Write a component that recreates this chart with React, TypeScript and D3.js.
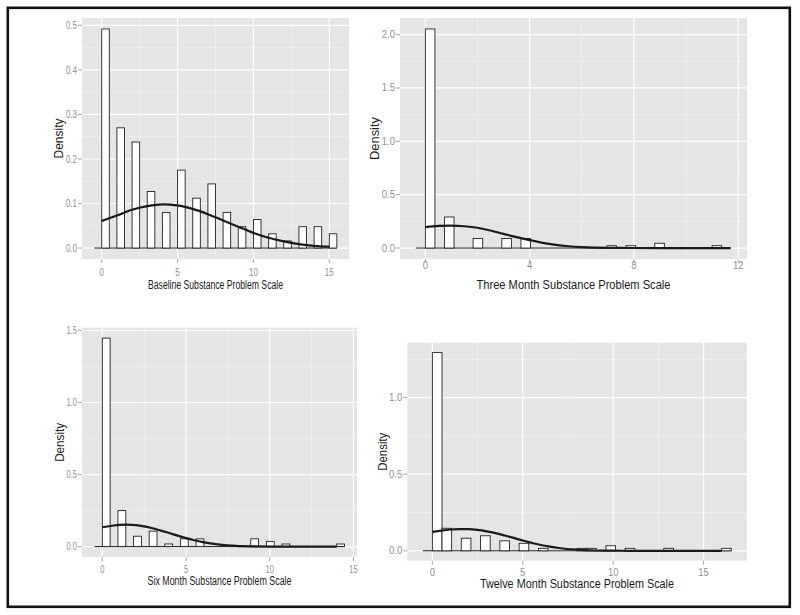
import React from 'react';
import * as d3 from 'd3';

// ---- data ----

// Baseline (binwidth 0.5)
const baseBinStart = [0, 1, 2, 3, 4, 5, 6, 7, 8, 9, 10, 11, 12, 13, 14, 15];
const baseBinWidth = 0.5;
const baseDensity = [0.492, 0.27, 0.238, 0.127, 0.08, 0.175, 0.112, 0.144, 0.08, 0.048, 0.064, 0.032, 0.016, 0.048, 0.048, 0.032];
const baseRange = [-0.5, 15.5];
const baseCurveX = [0, 1, 2, 3, 4, 5, 6, 7, 8, 9, 10, 11, 12, 13, 14, 15];
const baseCurveY = [0.061, 0.073, 0.086, 0.094, 0.098, 0.096, 0.088, 0.076, 0.062, 0.048, 0.034, 0.023, 0.015, 0.009, 0.005, 0.003];
const baseXTicks = [0, 5, 10, 15];
const baseYTicks = [0, 0.1, 0.2, 0.3, 0.4, 0.5];

// Three month (binwidth 11/30)
const threeBinStart = [0, 0.733, 1.833, 2.933, 3.667, 6.967, 7.7, 8.8, 11];
const threeBinWidth = 0.367;
const threeDensity = [2.053, 0.291, 0.089, 0.089, 0.089, 0.022, 0.022, 0.045, 0.022];
const threeRange = [-0.367, 11.733];
const threeCurveX = [0, 0.5, 1, 1.5, 2, 2.5, 3, 3.5, 4, 4.5, 5, 5.5, 6, 7, 8, 9, 10, 11, 11.7];
const threeCurveY = [0.196, 0.207, 0.21, 0.204, 0.19, 0.164, 0.133, 0.102, 0.074, 0.049, 0.03, 0.017, 0.009, 0.002, 0.0004, 0, 0, 0, 0];
const threeXTicks = [0, 4, 8, 12];
const threeYTicks = [0, 0.5, 1, 1.5, 2];

// Six month (binwidth 14/30)
const sixBinStart = [0, 0.933, 1.867, 2.8, 3.733, 4.667, 5.6, 8.867, 9.8, 10.733, 14];
const sixBinWidth = 0.467;
const sixDensity = [1.447, 0.25, 0.072, 0.107, 0.018, 0.054, 0.054, 0.054, 0.036, 0.018, 0.018];
const sixRange = [-0.467, 14.467];
const sixCurveX = [0, 0.5, 1, 1.5, 2, 2.5, 3, 3.5, 4, 4.5, 5, 5.5, 6, 7, 8, 9, 10, 11, 12, 13, 14];
const sixCurveY = [0.134, 0.143, 0.15, 0.152, 0.149, 0.14, 0.127, 0.111, 0.094, 0.076, 0.059, 0.044, 0.031, 0.014, 0.005, 0.0015, 0.0003, 0.0001, 0, 0, 0];
const sixXTicks = [0, 5, 10, 15];
const sixYTicks = [0, 0.5, 1, 1.5];

// Twelve month (binwidth 16/30)
const twelveBinStart = [0, 0.533, 1.6, 2.667, 3.733, 4.8, 5.867, 8, 8.533, 9.6, 10.667, 12.8, 16];
const twelveBinWidth = 0.533;
const twelveDensity = [1.294, 0.147, 0.082, 0.098, 0.065, 0.049, 0.016, 0.016, 0.016, 0.033, 0.016, 0.016, 0.016];
const twelveRange = [-0.533, 16.533];
const twelveCurveX = [0, 0.5, 1, 1.5, 2, 2.5, 3, 3.5, 4, 4.5, 5, 5.5, 6, 6.5, 7, 8, 9, 10, 11, 12, 14, 16];
const twelveCurveY = [0.123, 0.132, 0.139, 0.142, 0.141, 0.136, 0.127, 0.115, 0.1, 0.084, 0.067, 0.052, 0.038, 0.027, 0.018, 0.007, 0.002, 0.0005, 0.0001, 0, 0, 0];
const twelveXTicks = [0, 5, 10, 15];
const twelveYTicks = [0, 0.5, 1];

const titles = [
  'Baseline Substance Problem Scale',
  'Three Month Substance Problem Scale',
  'Six Month Substance Problem Scale',
  'Twelve Month Substance Problem Scale',
];

// ---- layout ----
const FONT = "'Liberation Sans', Arial, Helvetica, sans-serif";
const TICK_COL = '#8f8f8f';

interface Layout {
  x0: number; x1: number; y0: number; y1: number;
  sx: number; tickSize: number; xTickY: number;
  titleLen: number; titleY: number;
  yTitleX: number; yTitleLen: number;
}

const layouts: Layout[] = [
  { x0: 82, x1: 349, y0: 18, y1: 259, sx: 0.76, tickSize: 10.5, xTickY: 276, titleLen: 135, titleY: 289, yTitleX: 59, yTitleLen: 40 },
  { x0: 400, x1: 747, y0: 18, y1: 259, sx: 0.95, tickSize: 10, xTickY: 269, titleLen: 194, titleY: 289, yTitleX: 375, yTitleLen: 43 },
  { x0: 82, x1: 357, y0: 327.7, y1: 557, sx: 0.72, tickSize: 10.5, xTickY: 573, titleLen: 144, titleY: 585, yTitleX: 60, yTitleLen: 39 },
  { x0: 407.3, x1: 746.7, y0: 342.7, y1: 560.7, sx: 0.95, tickSize: 10, xTickY: 576, titleLen: 194, titleY: 588, yTitleX: 383, yTitleLen: 38 },
];

interface PanelData {
  binStart: number[]; binWidth: number; density: number[]; range: number[];
  curveX: number[]; curveY: number[]; xTicks: number[]; yTicks: number[]; title: string;
}

const panels: PanelData[] = [
  { binStart: baseBinStart, binWidth: baseBinWidth, density: baseDensity, range: baseRange, curveX: baseCurveX, curveY: baseCurveY, xTicks: baseXTicks, yTicks: baseYTicks, title: titles[0] },
  { binStart: threeBinStart, binWidth: threeBinWidth, density: threeDensity, range: threeRange, curveX: threeCurveX, curveY: threeCurveY, xTicks: threeXTicks, yTicks: threeYTicks, title: titles[1] },
  { binStart: sixBinStart, binWidth: sixBinWidth, density: sixDensity, range: sixRange, curveX: sixCurveX, curveY: sixCurveY, xTicks: sixXTicks, yTicks: sixYTicks, title: titles[2] },
  { binStart: twelveBinStart, binWidth: twelveBinWidth, density: twelveDensity, range: twelveRange, curveX: twelveCurveX, curveY: twelveCurveY, xTicks: twelveXTicks, yTicks: twelveYTicks, title: titles[3] },
];

// minor breaks halfway between majors, kept if inside the limits
const minorBreaks = (ticks: number[], domain: number[]) => {
  const step = ticks[1] - ticks[0];
  const out: number[] = [];
  for (let i = -1; i < ticks.length; i++) {
    const v = ticks[0] + step * (i + 0.5);
    if (v > domain[0] && v < domain[1]) out.push(v);
  }
  return out;
};

const Panel: React.FC<{ d: PanelData; l: Layout }> = ({ d, l }) => {
  const xr = d.range[1] - d.range[0];
  const xDomain = [d.range[0] - 0.05 * xr, d.range[1] + 0.05 * xr];
  const yMax = d3.max(d.density) as number;
  const yDomain = [-0.05 * yMax, yMax * 1.05];
  const x = d3.scaleLinear().domain(xDomain).range([l.x0, l.x1]);
  const y = d3.scaleLinear().domain(yDomain).range([l.y1, l.y0]);

  const pts = d.curveX.map((v, i) => [v, d.curveY[i]] as [number, number]);
  const line = d3.line<[number, number]>()
    .x(p => x(p[0]))
    .y(p => y(p[1]))
    .curve(d3.curveMonotoneX);

  const xMinor = minorBreaks(d.xTicks, xDomain);
  const yMinor = minorBreaks(d.yTicks, yDomain);
  const yFmt = d3.format('.1f');
  const cx = (l.x0 + l.x1) / 2;
  const cy = (l.y0 + l.y1) / 2;

  return (
    <g>
      <rect x={l.x0} y={l.y0} width={l.x1 - l.x0} height={l.y1 - l.y0} fill="#e5e5e5" />
      {xMinor.map(v => (
        <line key={'xm' + v} x1={x(v)} x2={x(v)} y1={l.y0} y2={l.y1} stroke="#f2f2f2" strokeWidth={0.6} />
      ))}
      {yMinor.map(v => (
        <line key={'ym' + v} x1={l.x0} x2={l.x1} y1={y(v)} y2={y(v)} stroke="#f2f2f2" strokeWidth={0.6} />
      ))}
      {d.xTicks.map(v => (
        <line key={'xg' + v} x1={x(v)} x2={x(v)} y1={l.y0} y2={l.y1} stroke="#fff" strokeWidth={1.2} />
      ))}
      {d.yTicks.map(v => (
        <line key={'yg' + v} x1={l.x0} x2={l.x1} y1={y(v)} y2={y(v)} stroke="#fff" strokeWidth={1.2} />
      ))}

      {/* histogram */}
      <line x1={x(d.range[0])} x2={x(d.range[1])} y1={y(0)} y2={y(0)} stroke="#222" strokeWidth={1} />
      {d.binStart.map((s, i) => (
        <rect key={'b' + i} x={x(s)} y={y(d.density[i])} width={x(s + d.binWidth) - x(s)}
          height={y(0) - y(d.density[i])} fill="#fff" stroke="#222" strokeWidth={0.9} />
      ))}
      <path d={line(pts) || ''} fill="none" stroke="#1a1a1a" strokeWidth={2.2} />

      {/* axes */}
      {d.xTicks.map(v => (
        <g key={'xt' + v}>
          <line x1={x(v)} x2={x(v)} y1={l.y1} y2={l.y1 + 4} stroke={TICK_COL} strokeWidth={0.8} />
          <text transform={`translate(${x(v)},${l.xTickY}) scale(${l.sx},1)`} textAnchor="middle"
            fontSize={l.tickSize} fill={TICK_COL} fontFamily={FONT}>{v}</text>
        </g>
      ))}
      {d.yTicks.map(v => (
        <g key={'yt' + v}>
          <line x1={l.x0 - 4} x2={l.x0} y1={y(v)} y2={y(v)} stroke={TICK_COL} strokeWidth={0.8} />
          <text transform={`translate(${l.x0 - 5},${y(v)}) scale(${l.sx},1)`} textAnchor="end" dy="0.35em"
            fontSize={l.tickSize} fill={TICK_COL} fontFamily={FONT}>{yFmt(v)}</text>
        </g>
      ))}
      <text x={cx} y={l.titleY} textAnchor="middle" fontSize={12.5} fill="#1a1a1a" fontFamily={FONT}
        textLength={l.titleLen} lengthAdjust="spacingAndGlyphs">{d.title}</text>
      <text transform={`translate(${l.yTitleX},${cy}) rotate(-90)`} textAnchor="middle" dy="0.35em"
        fontSize={12.5} fill="#1a1a1a" fontFamily={FONT}
        textLength={l.yTitleLen} lengthAdjust="spacingAndGlyphs">Density</text>
    </g>
  );
};

export default function App() {
  return (
    <svg width={800} height={615} style={{ position: 'absolute', left: 0, top: 0, background: '#fff' }}>
      <rect x={0} y={0} width={800} height={615} fill="#fff" />
      {panels.map((p, i) => <Panel key={i} d={p} l={layouts[i]} />)}
      <rect x={7.8} y={7.8} width={782} height={599} fill="none" stroke="#111" strokeWidth={2.6} />
    </svg>
  );
}
